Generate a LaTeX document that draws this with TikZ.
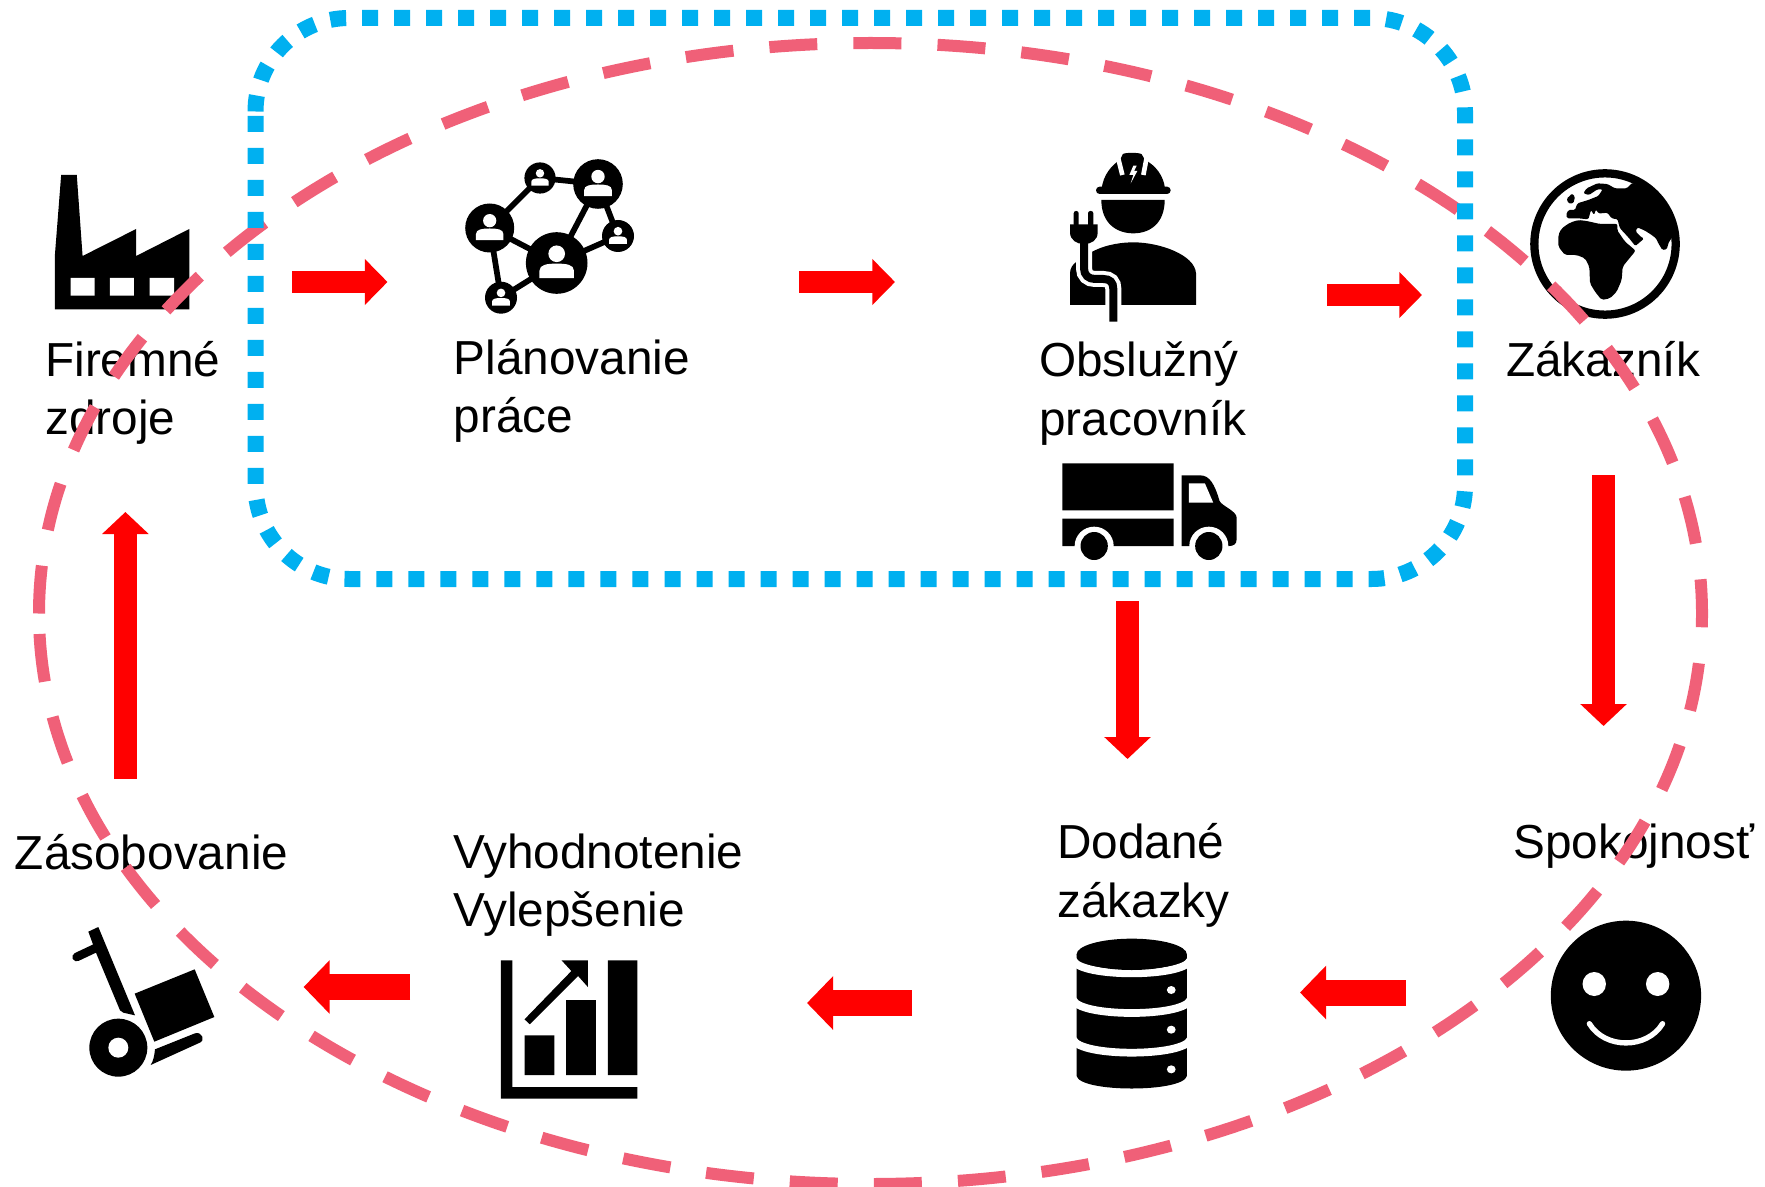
\documentclass[tikz,border=0pt]{standalone}
\usepackage{fontspec}
\setmainfont{Liberation Sans}
\usetikzlibrary{arrows.meta}
\definecolor{pinkd}{HTML}{F06078}
\definecolor{blued}{HTML}{00B0F0}
\newcommand\netperson[3]{\begin{scope}[shift={(#1,#2)},scale=#3]
\fill[black] (0,0) circle (1);
\fill[white] (0,-.3) circle (.27);
\fill[white] (-.56,.49) -- (-.56,.25) .. controls (-.56,.05) and (-.3,.02) .. (0,.02) .. controls (.3,.02) and (.56,.05) .. (.56,.25) -- (.56,.49) -- cycle;
\end{scope}}
\tikzset{
 lbl/.style={font=\fontsize{35.8}{43.8}\selectfont,anchor=base west,inner sep=0pt,align=left,text=black},
 zone/.style={shift={(0,130)},x=0.3348pt,y=-0.25pt},
 ztwo/.style={shift={(1000,131)},x=0.3659pt,y=-0.25pt},
 zthree/.style={shift={(0,801)},x=0.3348pt,y=-0.25pt},
 zfour/.style={shift={(1000,801)},x=0.3659pt,y=-0.25pt},
 zglobe/.style={shift={(1520,160)},x=0.25pt,y=-0.25pt},
 zwork/.style={shift={(1060,145)},x=0.25pt,y=-0.25pt},
 zcart/.style={shift={(60,921)},x=0.25pt,y=-0.25pt},
 netedge/.style={line width=4.3pt,draw=black},
 hflow/.style={draw=red,line width=16.8pt,-{Triangle[length=17pt,width=33.5pt,fill=red]}},
 vflow/.style={draw=red,line width=17pt,-{Triangle[length=16.5pt,width=34pt,fill=red]}},
 wflow/.style={draw=red,line width=19.5pt,-{Triangle[length=19.5pt,width=39pt,fill=red]}},
 loopd/.style={draw=pinkd,line width=9pt,dash pattern=on 36pt off 27.1pt},
 cyc/.style={draw=blued,line width=12pt,dash pattern=on 12pt off 12pt},
}
\begin{document}
\begin{tikzpicture}[x=0.75pt,y=-0.75pt]
\useasboundingbox (0,0) rectangle (1765,1187);
\fill[white] (0,0) rectangle (1765,1187);

% factory
\begin{scope}[zone]
\fill[black] (137,135) -- (172,135) -- (185,378) -- (305,297) -- (305,378) -- (424,297) -- (424,538) -- (123,538) -- (123,375) -- cycle;
\fill[white] (158,444) rectangle (212,497) (246,444) rectangle (300,497) (335,444) rectangle (390,497);
\end{scope}

% network
\coordinate (n1) at (489.7,228);
\coordinate (n2) at (540,178);
\coordinate (n3) at (598,184);
\coordinate (n4) at (618,236);
\coordinate (n5) at (556.7,263);
\coordinate (n6) at (501,297.7);
\draw[netedge] (n1) -- (n2);
\draw[netedge] (n2) -- (n3);
\draw[netedge] (n3) -- (n5);
\draw[netedge] (n3) -- (n4);
\draw[netedge] (n4) -- (n5);
\draw[netedge] (n1) -- (n5);
\draw[netedge] (n1) -- (n6);
\draw[netedge] (n6) -- (n5);
\netperson{489.7}{228}{24.5}
\netperson{540}{178}{15.6}
\netperson{598}{184}{24.8}
\netperson{618}{236}{16}
\netperson{556.7}{263}{30.8}
\netperson{501}{297.7}{16}

% worker
\begin{scope}[zwork]
\fill[black] (125,130) .. controls (130,90) and (155,60) .. (180,45) -- (188,28) .. controls (190,22) and (240,22) .. (245,28) -- (255,45) .. controls (285,60) and (310,90) .. (315,130) -- cycle;
\draw[white,line width=3.5pt] (174,38) -- (187,90);
\draw[white,line width=3.5pt] (260,38) -- (250,90);
\fill[white] (220,62) -- (208,90) -- (220,90) -- (212,115) -- (232,78) -- (222,78) -- (230,62) -- cycle;
\fill[black,rounded corners=2.7pt] (108,125) rectangle (332,147);
\fill[black] (124,165) -- (314,165) .. controls (314,235) and (270,265) .. (220,265) .. controls (170,265) and (124,235) .. (124,165) -- cycle;
\fill[black] (30,480) -- (30,385) .. controls (30,370) and (38,358) .. (50,350) -- (60,330) -- (97,320) .. controls (140,297) and (190,292) .. (220,292) .. controls (300,292) and (405,330) .. (408,385) -- (408,480) -- cycle;
\draw[white,line width=12pt] (72,295) -- (72,370) .. controls (72,390) and (85,402) .. (105,402) -- (130,402) .. controls (150,402) and (160,412) .. (160,432) -- (160,500);
\draw[black,line width=6pt] (72,290) -- (72,370) .. controls (72,390) and (85,402) .. (105,402) -- (130,402) .. controls (150,402) and (160,412) .. (160,432) -- (160,530);
\fill[black,rounded corners=1.7pt] (41,198) rectangle (56,245) (84,198) rectangle (100,245);
\fill[black] (30,238) -- (113,238) -- (113,262) .. controls (113,285) and (95,297) .. (72,297) .. controls (50,297) and (30,285) .. (30,262) -- cycle;
\end{scope}

% truck
\begin{scope}[ztwo]
\fill[black] (128,997) rectangle (356,1138) (128,1163) rectangle (356,1245);
\fill[black] (372,1033) -- (410,1033) .. controls (430,1033) and (440,1060) .. (450,1110) .. controls (455,1125) and (485,1140) .. (485,1160) -- (485,1225) .. controls (485,1240) and (478,1245) .. (470,1245) -- (372,1245) -- cycle;
\fill[white] (387,1057) -- (420,1057) -- (437,1115) -- (387,1115) -- cycle;
\fill[white] (193,1245) ellipse [x radius=40,y radius=58];
\fill[white] (428,1245) ellipse [x radius=40,y radius=58];
\fill[black] (193,1245) ellipse [x radius=28,y radius=42];
\fill[black] (428,1245) ellipse [x radius=28,y radius=42];
\end{scope}

% globe
\begin{scope}[zglobe]
\draw[black,line width=6.2pt] (255,252) circle [radius=212];
\fill[black,rounded corners=1pt] (337,68) -- (360,80) -- (395,100) -- (425,135) -- (447,175) -- (457,215) -- (457,232) -- (447,245) -- (440,268) -- (427,270) -- (415,250) -- (408,235) -- (395,225) -- (375,212) -- (352,202) -- (347,215) -- (362,230) -- (372,236) -- (346,258) -- (325,232) -- (300,205) -- (296,192) -- (293,178) -- (275,175) -- (262,158) -- (245,160) -- (235,160) -- (228,148) -- (222,165) -- (213,150) -- (205,178) -- (175,175) -- (142,175) -- (138,165) -- (145,150) -- (165,150) -- (172,130) -- (205,120) -- (235,108) -- (248,88) -- (232,88) -- (207,105) -- (190,100) -- (200,85) -- (232,70) -- (262,72) -- (285,85) -- (320,85) -- cycle;
\fill[black,rounded corners=1.5pt] (293,192) -- (291,210) -- (315,245) -- (347,272) -- (320,305) -- (308,320) -- (305,360) -- (290,395) -- (270,415) -- (245,420) -- (225,395) -- (210,370) -- (208,320) -- (195,295) -- (170,285) -- (135,285) -- (115,260) -- (115,225) -- (125,205) -- (150,188) -- (175,180) -- (200,183) -- (240,192) -- cycle;
\fill[black,rounded corners=1pt] (155,100) -- (165,110) -- (160,130) -- (145,130) -- (140,115) -- (150,108) -- cycle;
\end{scope}

% cart
\begin{scope}[zcart]
\fill[black] (85,32) -- (115,18) -- (225,283) -- (190,275) -- (180,268) -- (110,100) -- cycle;
\draw[black,line width=6.5pt,line cap=round] (50,108) -- (105,82);
\fill[black] (224,218) -- (404,145) -- (463,288) -- (283,362) -- cycle;
\fill[black] (175,380) circle [radius=87];
\fill[white] (175,380) circle [radius=30];
\fill[black] (285,385) -- (405,337) .. controls (425,330) and (440,360) .. (415,367) -- (272,432) .. controls (280,420) and (283,405) .. (285,385) -- cycle;
\end{scope}

% chart
\begin{scope}[zthree]
\fill[black] (1122,478) -- (1148,478) -- (1148,858) -- (1428,858) -- (1428,893) -- (1122,893) -- cycle;
\fill[black] (1175,703) rectangle (1242,822) (1268,597) rectangle (1335,822) (1362,478) rectangle (1428,822);
\fill[black] (1175,655) -- (1280,510) -- (1258,478) -- (1317,478) -- (1317,558) -- (1295,525) -- (1187,670) -- cycle;
\end{scope}

% database
\begin{scope}[zfour]
\fill[black] (157,460) -- (157,825) .. controls (165,875) and (375,875) .. (383,825) -- (383,460) -- cycle;
\draw[white,line width=5.8pt] (150,478) .. controls (165,530) and (375,530) .. (390,478);
\draw[white,line width=5.8pt] (150,597) .. controls (165,649) and (375,649) .. (390,597);
\draw[white,line width=5.8pt] (150,716) .. controls (165,768) and (375,768) .. (390,716);
\fill[black] (270,460) ellipse [x radius=113,y radius=47];
\fill[white] (351,567) ellipse [x radius=9,y radius=12];
\fill[white] (351,686) ellipse [x radius=9,y radius=12];
\fill[white] (351,805) ellipse [x radius=9,y radius=12];
% smiley
\fill[black] (1283,584) ellipse [x radius=154,y radius=225];
\fill[white] (1218,549) ellipse [x radius=24,y radius=36];
\fill[white] (1348,549) ellipse [x radius=24,y radius=36];
\draw[white,line width=4pt,line cap=round] (1208,668) .. controls (1240,745) and (1326,745) .. (1358,668);
\end{scope}

% labels
\node[lbl] (t1) at (45,434.5) {Firemné\\zdroje};
\node[lbl] (t2) at (453.6,432.5) {Plánovanie\\práce};
\node[lbl] (t3) at (1039,435) {Obslužný\\pracovník};
\node[lbl] (t4) at (1506,376) {Zákazník};
\node[lbl] (t5) at (1513,858) {Spokojnosť};
\node[lbl] (t6) at (1057,917) {Dodané\\zákazky};
\node[lbl] (t7) at (453,926.5) {Vyhodnotenie\\Vylepšenie};
\node[lbl] (t8) at (14.6,869) {Zásobovanie};

% pink loop
\draw[loopd] (39,613.5) arc [start angle=180,end angle=540,x radius=831.5,y radius=570.5];

% blue loop
\draw[cyc] (255.5,111.5) .. controls (255.5,60) and (297.3,18) .. (349,18) -- (1371.5,18) .. controls (1423,18) and (1465,60) .. (1465,111.5) -- (1465,485.5) .. controls (1465,537) and (1423,579) .. (1371.5,579) -- (349,579) .. controls (297.3,579) and (255.5,537) .. (255.5,485.5) -- cycle;

% red flows
\coordinate (a1s) at (292,282); \coordinate (a1e) at (387.5,282);
\coordinate (a2s) at (799,282); \coordinate (a2e) at (895,282);
\coordinate (a3s) at (1327,295); \coordinate (a3e) at (1422,295);
\coordinate (a4s) at (1603.5,475); \coordinate (a4e) at (1603.5,726);
\coordinate (a5s) at (1127.5,601); \coordinate (a5e) at (1127.5,759);
\coordinate (a6s) at (1406,992.5); \coordinate (a6e) at (1300,992.5);
\coordinate (a7s) at (912,1003); \coordinate (a7e) at (807,1003);
\coordinate (a8s) at (410,987); \coordinate (a8e) at (303.6,987);
\coordinate (a9s) at (125.4,779); \coordinate (a9e) at (125.4,512);
\draw[hflow] (a1s) -- (a1e);
\draw[hflow] (a2s) -- (a2e);
\draw[hflow] (a3s) -- (a3e);
\draw[vflow] (a4s) -- (a4e);
\draw[vflow] (a5s) -- (a5e);
\draw[wflow] (a6s) -- (a6e);
\draw[wflow] (a7s) -- (a7e);
\draw[wflow] (a8s) -- (a8e);
\draw[vflow] (a9s) -- (a9e);
\end{tikzpicture}
\end{document}
